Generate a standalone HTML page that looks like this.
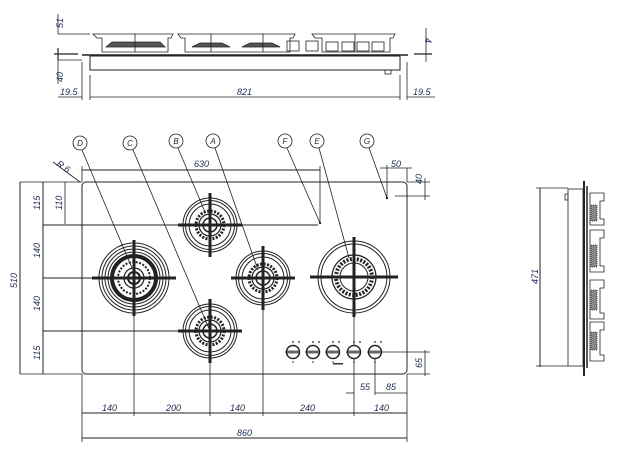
<!DOCTYPE html>
<html><head><style>html,body{margin:0;padding:0;background:#fff}svg{display:block}
text{font-family:"Liberation Sans",sans-serif;font-style:italic;font-size:9px;fill:#1a2a5a}</style></head>
<body>
<svg width="620" height="456" viewBox="0 0 620 456" xmlns="http://www.w3.org/2000/svg">
<defs>
<g id="bs">
 <circle r="27" fill="none" stroke="#222" stroke-width="1"/>
 <circle r="24.5" fill="none" stroke="#222" stroke-width="1"/>
 <circle r="21" fill="none" stroke="#222" stroke-width="1"/>
 <circle r="14" fill="none" stroke="#222" stroke-width="3" stroke-dasharray="2 1.5"/>
 <circle r="11" fill="none" stroke="#222" stroke-width="1.2"/>
 <circle r="7" fill="none" stroke="#222" stroke-width="1.5"/>
 <line x1="-32" y1="0" x2="32" y2="0" stroke="#222" stroke-width="3"/>
 <line x1="0" y1="-32" x2="0" y2="32" stroke="#222" stroke-width="3"/>
</g>
<g id="knob">
 <circle r="6.5" fill="#fff" stroke="#222" stroke-width="1.5"/>
 <rect x="-6" y="-1.5" width="12" height="3" fill="#666"/>
 <circle cx="0" cy="-10" r="0.9" fill="#222"/><circle cx="6" cy="-10" r="0.9" fill="#222"/>
 <circle cx="-7" cy="0" r="0.8" fill="#222"/><circle cx="0" cy="10" r="0.8" fill="#222"/>
</g>
</defs>
<g stroke="#222" fill="none" stroke-width="0.8">
<line x1="82" y1="55" x2="408" y2="55" stroke-width="1.5"/>
<rect x="90" y="56" width="310" height="14" stroke-width="1"/>
<rect x="385" y="70" width="6" height="4"/>
<path d="M93 34 L173 34 L171 38 L168 38 L168 52 L102 52 L102 38 L97 38 Z"/>
<path d="M178 34 L295 34 L293 38 L290 38 L290 52 L185 52 L185 38 L181 38 Z"/>
<path d="M312 34 L395 34 L393 38 L390 38 L390 52 L322 52 L322 38 L315 38 Z"/>
<path d="M106 47 L112 42 L160 42 L165 47 Z" fill="#555"/>
<path d="M192 47 L200 43 L222 43 L230 47 Z" fill="#555"/>
<path d="M242 47 L250 43 L272 43 L280 47 Z" fill="#555"/>
<rect x="287" y="41" width="12" height="10"/><rect x="306" y="41" width="12" height="10"/>
<rect x="326" y="42" width="12" height="9"/><rect x="342" y="42" width="12" height="9"/><rect x="357" y="42" width="12" height="9"/><rect x="372" y="42" width="12" height="9"/>
<line x1="135" y1="34" x2="135" y2="52"/><line x1="211" y1="34" x2="211" y2="52"/><line x1="263" y1="34" x2="263" y2="52"/><line x1="355" y1="34" x2="355" y2="52"/>
<line x1="58" y1="14" x2="58" y2="34"/><line x1="58" y1="34" x2="90" y2="34"/>
<line x1="54" y1="54" x2="78" y2="54" stroke-width="1.2"/>
<line x1="58" y1="48" x2="58" y2="60" stroke-width="1.2"/>
<line x1="58" y1="60" x2="58" y2="84"/><line x1="58" y1="60" x2="82" y2="60"/>
<line x1="58" y1="97" x2="82" y2="97"/>
<line x1="82" y1="62" x2="82" y2="100"/><line x1="90" y1="75" x2="90" y2="100"/>
<line x1="90" y1="97" x2="400" y2="97"/>
<line x1="400" y1="75" x2="400" y2="100"/><line x1="407" y1="62" x2="407" y2="100"/>
<line x1="407" y1="97" x2="435" y2="97"/>
<line x1="414" y1="54" x2="432" y2="54" stroke-width="1.2"/>
<line x1="426" y1="28" x2="426" y2="62"/>
<rect x="82" y="182" width="325" height="192" rx="4" stroke-width="1"/>
<line x1="20" y1="182" x2="82" y2="182"/>
<line x1="20" y1="182" x2="20" y2="374" stroke-width="1"/>
<line x1="43" y1="182" x2="43" y2="374" stroke-width="1"/>
<line x1="20" y1="374" x2="82" y2="374"/>
<line x1="65" y1="182" x2="65" y2="224"/>
<line x1="43" y1="225" x2="318" y2="225" stroke-width="1"/>
<line x1="43" y1="278" x2="134" y2="278" stroke-width="1"/>
<line x1="43" y1="331" x2="210" y2="331" stroke-width="1"/>
<line x1="82" y1="170" x2="320" y2="170" stroke-width="1"/>
<line x1="82" y1="166" x2="82" y2="182"/>
<line x1="320" y1="166" x2="320" y2="223"/>
<line x1="53" y1="162" x2="80" y2="182"/>
<line x1="82" y1="374" x2="82" y2="442"/>
<line x1="134" y1="278" x2="134" y2="416"/>
<line x1="210" y1="331" x2="210" y2="416"/>
<line x1="263" y1="278" x2="263" y2="416"/>
<line x1="354" y1="278" x2="354" y2="416"/>
<line x1="407" y1="374" x2="407" y2="442"/>
<line x1="82" y1="413" x2="407" y2="413" stroke-width="1"/>
<line x1="82" y1="438" x2="407" y2="438" stroke-width="1"/>
<line x1="346" y1="393" x2="354" y2="393"/>
<line x1="375" y1="352" x2="375" y2="395"/>
<line x1="375" y1="393" x2="407" y2="393"/>
<line x1="375" y1="352" x2="430" y2="352"/>
<line x1="407" y1="374" x2="430" y2="374"/>
<line x1="425" y1="350" x2="425" y2="376"/>
<line x1="387" y1="165" x2="387" y2="198"/>
<line x1="407" y1="168" x2="407" y2="182"/>
<line x1="380" y1="168" x2="412" y2="168"/>
<line x1="407" y1="182" x2="430" y2="182"/>
<line x1="395" y1="196" x2="430" y2="196"/>
<line x1="425" y1="178" x2="425" y2="200"/>
</g>
<g transform="translate(134,278)" stroke="#222" fill="none">
 <circle r="35"/><circle r="32"/><circle r="29"/><circle r="26"/>
 <circle r="22" stroke-width="4"/><circle r="16" stroke-width="2" stroke-dasharray="2 1.5"/>
 <circle r="10" stroke-width="1.2"/><circle r="6" stroke-width="2"/>
 <line x1="-42" y1="0" x2="42" y2="0" stroke-width="3"/><line x1="0" y1="-38" x2="0" y2="38" stroke-width="3"/>
</g>
<use href="#bs" x="210" y="225"/>
<use href="#bs" x="210" y="331"/>
<use href="#bs" x="263" y="278"/>
<g transform="translate(354,277)" stroke="#222" fill="none">
 <circle r="36"/><circle r="33"/><circle r="22" stroke-width="1.2"/>
 <circle r="18" stroke-width="4" stroke-dasharray="2 1.5"/><circle r="14"/>
 <line x1="-44" y1="0" x2="44" y2="0" stroke-width="3"/><line x1="0" y1="-40" x2="0" y2="40" stroke-width="3"/>
</g>
<use href="#knob" x="293" y="352"/><use href="#knob" x="313" y="352"/><use href="#knob" x="333" y="352"/><use href="#knob" x="354" y="352"/><use href="#knob" x="375" y="352"/>
<rect x="333" y="363" width="10" height="1.5" fill="#333"/>
<circle cx="320" cy="223" r="1.2" fill="#222"/><circle cx="387" cy="198" r="1.2" fill="#222"/>
<g stroke="#222" stroke-width="0.8" fill="none">
<line x1="82" y1="150" x2="132" y2="268"/>
<line x1="133" y1="150" x2="210" y2="331"/>
<line x1="178" y1="148" x2="205" y2="212"/>
<line x1="215" y1="148" x2="258" y2="270"/>
<line x1="287" y1="148" x2="320" y2="223"/>
<line x1="319" y1="148" x2="349" y2="258"/>
<line x1="369" y1="148" x2="387" y2="198"/>
<circle cx="80" cy="143" r="7" fill="#fff"/><circle cx="130" cy="143" r="7" fill="#fff"/>
<circle cx="176" cy="141" r="7" fill="#fff"/><circle cx="213" cy="141" r="7" fill="#fff"/>
<circle cx="285" cy="141" r="7" fill="#fff"/><circle cx="317" cy="141" r="7" fill="#fff"/>
<circle cx="367" cy="141" r="7" fill="#fff"/>
</g>
<g>
<text x="80" y="146" text-anchor="middle" style="fill:#222;font-size:8px">D</text>
<text x="130" y="146" text-anchor="middle" style="fill:#222;font-size:8px">C</text>
<text x="176" y="144" text-anchor="middle" style="fill:#222;font-size:8px">B</text>
<text x="213" y="144" text-anchor="middle" style="fill:#222;font-size:8px">A</text>
<text x="285" y="144" text-anchor="middle" style="fill:#222;font-size:8px">F</text>
<text x="317" y="144" text-anchor="middle" style="fill:#222;font-size:8px">E</text>
<text x="367" y="144" text-anchor="middle" style="fill:#222;font-size:8px">G</text>
</g>
<g stroke="#222" fill="none" stroke-width="0.8">
<line x1="540" y1="188" x2="540" y2="367" stroke-width="1"/>
<line x1="536" y1="188" x2="568" y2="188"/><line x1="536" y1="366" x2="568" y2="366"/>
<rect x="568" y="189" width="15" height="177"/>
<rect x="565" y="194" width="3" height="6"/>
<line x1="584" y1="181" x2="584" y2="376" stroke-width="2"/>
<line x1="587" y1="186" x2="587" y2="368" stroke-width="1.5"/>
<path d="M590 193 h14 v8 h-4 v18 h4 v6 h-14 z M590 230 h14 v8 h-4 v28 h4 v6 h-14 z M590 280 h14 v8 h-4 v25 h4 v6 h-14 z M590 322 h14 v8 h-4 v25 h4 v6 h-14 z"/>
<rect x="591" y="205" width="6" height="16" fill="#888" stroke-dasharray="1 1"/><rect x="591" y="245" width="6" height="22" fill="#888" stroke-dasharray="1 1"/>
<rect x="591" y="290" width="6" height="20" fill="#888" stroke-dasharray="1 1"/><rect x="591" y="332" width="6" height="18" fill="#888" stroke-dasharray="1 1"/>
</g>
<text transform="translate(63,28) rotate(-90)">51</text>
<text transform="translate(63,82) rotate(-90)">40</text>
<text x="60" y="95">19.5</text>
<text x="237" y="95">821</text>
<text x="413" y="95">19.5</text>
<text transform="translate(425,38) rotate(90)">4</text>
<text transform="translate(56,165) rotate(35)">R 6</text>
<text x="194" y="167">630</text>
<text transform="translate(17,288) rotate(-90)">510</text>
<text transform="translate(40,210) rotate(-90)">115</text>
<text transform="translate(62,210) rotate(-90)">110</text>
<text transform="translate(40,258) rotate(-90)">140</text>
<text transform="translate(40,311) rotate(-90)">140</text>
<text transform="translate(40,360) rotate(-90)">115</text>
<text x="102" y="411">140</text>
<text x="166" y="411">200</text>
<text x="230" y="411">140</text>
<text x="300" y="411">240</text>
<text x="374" y="411">140</text>
<text x="237" y="436">860</text>
<text x="360" y="390">55</text>
<text x="386" y="390">85</text>
<text x="391" y="167">50</text>
<text transform="translate(422,184) rotate(-90)">40</text>
<text transform="translate(422,368) rotate(-90)">65</text>
<text transform="translate(538,284) rotate(-90)">471</text>
</svg>
</body></html>
